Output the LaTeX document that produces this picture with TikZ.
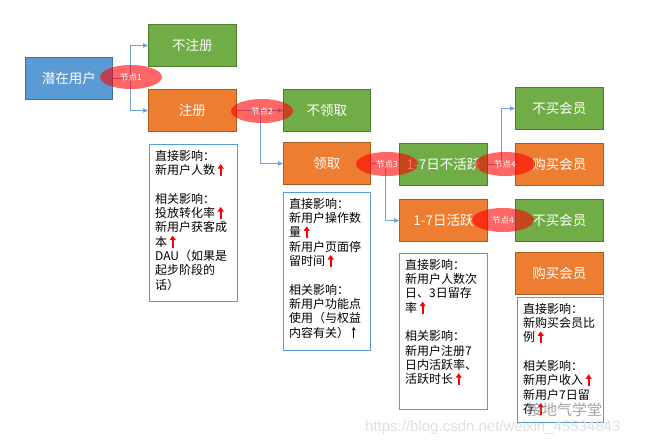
\documentclass[tikz,border=0pt]{standalone}
\usepackage{fontspec}
\setmainfont{Noto Sans CJK SC}
\newfontfamily\wmfont{Liberation Sans}
\usetikzlibrary{arrows.meta,shapes.geometric}
\definecolor{cblue}{HTML}{5B9BD5}
\definecolor{cblueb}{HTML}{41719C}
\definecolor{cgreen}{HTML}{70AD47}
\definecolor{cgreenb}{HTML}{507E32}
\definecolor{corange}{HTML}{ED7D31}
\definecolor{coranb}{HTML}{AE5A21}
\definecolor{cline}{HTML}{6FA3DA}
\newcommand\redup{\hspace{2.5pt}\tikz[baseline=0pt]\draw[red,line width=1.8pt,-{Triangle[length=4.5pt,width=6pt]}](0pt,-1.5pt)--(0pt,10.5pt);}
\newcommand\blkup{\hspace{2.5pt}\tikz[baseline=0pt]\draw[black,line width=0.7pt,-{Stealth[length=3.5pt,width=4pt]}](0pt,-1pt)--(0pt,10pt);}
\begin{document}
\begin{tikzpicture}[x=1pt,y=-1pt,
 box/.style={draw, line width=0.9pt, minimum width=88pt, minimum height=42pt, inner sep=0pt, text=white, font=\fontsize{13.5}{15}\selectfont, anchor=north west},
 bluebox/.style={box, fill=cblue, draw=cblueb},
 greenbox/.style={box, fill=cgreen, draw=cgreenb},
 orangebox/.style={box, fill=corange, draw=coranb},
 infobox/.style={draw=cblue, line width=0.9pt, fill=white, inner sep=0pt, anchor=north west},
 infotext/.style={anchor=north west, align=left, inner sep=0pt, font=\fontsize{12}{14.3}\selectfont},
 conn/.style={draw=cline, line width=1pt},
 arr/.style={conn, -{Triangle[length=5pt,width=4.5pt]}},
 knot/.style={ellipse, fill=red, fill opacity=0.6, text opacity=1, text=white, minimum width=62pt, minimum height=24pt, inner sep=0pt, font=\fontsize{8.5}{9}\selectfont}
]
\useasboundingbox (0,0) rectangle (646,447);
\fill[white] (0,0) rectangle (646,447);

% coloured boxes
\node[bluebox, minimum width=87pt] (u) at (25,57) {潜在用户};
\node[greenbox] (nr) at (148,24) {不注册};
\node[orangebox] (r) at (148,89) {注册};
\node[greenbox, minimum width=87pt] (nl) at (283,89) {不领取};
\node[orangebox, minimum width=87pt] (l) at (283,142) {领取};
\node[greenbox] (ni) at (399,143) {1-7日不活跃};
\node[orangebox] (a) at (399,199) {1-7日活跃};
\node[greenbox] (nb1) at (515,87) {不买会员};
\node[orangebox] (b1) at (515,143) {购买会员};
\node[greenbox] (nb2) at (515,199) {不买会员};
\node[orangebox] (b2) at (515,252) {购买会员};

% junctions
\coordinate (j1) at (130,78);
\coordinate (j2) at (260,110);
\coordinate (j3) at (385,164);
\coordinate (j4) at (501,164);

% connectors
\draw[conn] (u.east) -- (j1);
\draw[arr] (j1) |- (nr.west);
\draw[arr] (j1) |- (r.west);
\draw[arr] (r.east) -- (nl.west);
\draw[arr] (j2) |- (l.west);
\draw[conn] (l.east) -- (j3);
\draw[arr] (j3) |- (a.west);
\draw[conn] (ni.east) -- (j4);
\draw[arr] (j4) |- (nb1.west);

% info boxes
\node[infobox, minimum width=88pt, minimum height=157pt] (t1) at (149,144) {};
\node[infotext] (tt1) at ([xshift=6pt,yshift=-6pt]t1.north west) {直接影响：\\新用户人数\redup\\[14.3pt]相关影响：\\投放转化率\redup\\新用户获客成\\本\redup\\DAU（如果是\\起步阶段的\\话）};

\node[infobox, minimum width=87pt, minimum height=158pt] (t2) at (283,192) {};
\node[infotext] (tt2) at ([xshift=6pt,yshift=-6pt]t2.north west) {直接影响：\\新用户操作数\\量\redup\\新用户页面停\\留时间\redup\\[14.3pt]相关影响：\\新用户功能点\\使用（与权益\\内容有关）\blkup};

\node[infobox, minimum width=88pt, minimum height=156pt] (t3) at (399,253) {};
\node[infotext] (tt3) at ([xshift=6pt,yshift=-6pt]t3.north west) {直接影响：\\新用户人数次\\日、3日留存\\率\redup\\[14.3pt]相关影响：\\新用户注册7\\日内活跃率、\\活跃时长\redup};

\node[infobox, minimum width=86pt, minimum height=125pt] (t4) at (517,297) {};
\node[infotext] (tt4) at ([xshift=6pt,yshift=-6pt]t4.north west) {直接影响：\\新购买会员比\\例\redup\\[14.3pt]相关影响：\\新用户收入\redup\\新用户7日留\\存\redup};

% decision ellipses
\node[knot] (e1) at (131,77) {节点1};
\node[knot] (e2) at (262,111) {节点2};
\node[knot] (e3) at (387,164) {节点3};
\node[knot, minimum width=60pt] (e4) at (505,164) {节点4};
\node[knot] (e5) at (503,220) {节点4};

% watermarks
\node[anchor=west, inner sep=0pt, text=black!45, text opacity=0.8, font=\fontsize{15}{15}\selectfont] (wm1) at (527,410) {接地气学堂};
\node[anchor=west, inner sep=0pt, text=black!12, font=\wmfont\fontsize{15}{15}\selectfont] (wm2) at (365,428) {https://blog.csdn.net/weixin\_45534843};
\end{tikzpicture}
\end{document}
